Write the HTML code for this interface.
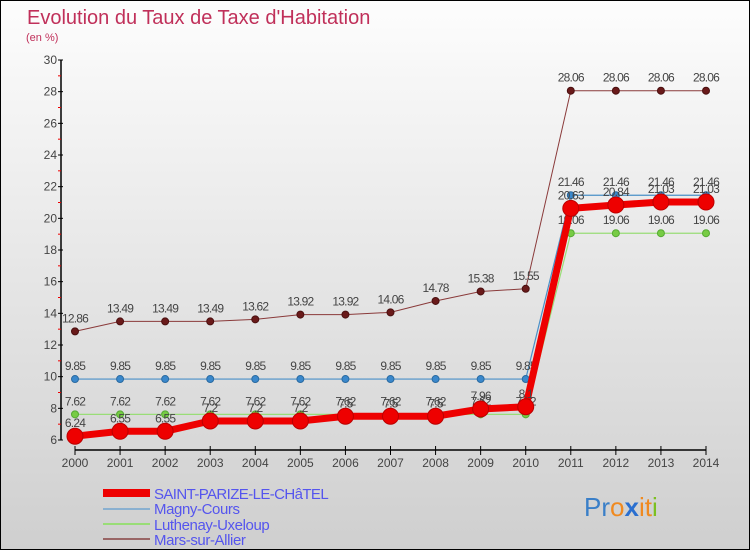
<!DOCTYPE html>
<html><head><meta charset="utf-8"><style>
html,body{margin:0;padding:0}
body{width:750px;height:550px;overflow:hidden;font-family:"Liberation Sans",sans-serif}
</style></head><body>
<svg id="chart" width="750" height="550" xmlns="http://www.w3.org/2000/svg" font-family="Liberation Sans, sans-serif">
<defs><linearGradient id="bg" x1="0" y1="0" x2="0" y2="1"><stop offset="0" stop-color="#fdfdfd"/><stop offset="1" stop-color="#cfcfcf"/></linearGradient></defs>
<rect x="0.5" y="0.5" width="749" height="549" fill="url(#bg)" stroke="#000"/>
<text x="27" y="24" font-size="20" fill="#c0305a">Evolution du Taux de Taxe d'Habitation</text>
<text x="26" y="41" font-size="11" fill="#c0305a">(en %)</text>
<g id="axes"></g>
<g id="series"></g>
<g id="legend">
<line x1="103" y1="493" x2="150" y2="493" stroke="#e00" stroke-width="8"/>
<text x="154" y="499" font-size="15" letter-spacing="-0.6" fill="#5555ee">SAINT-PARIZE-LE-CHâTEL</text>
<line x1="103" y1="509" x2="150" y2="509" stroke="#8ab0d0" stroke-width="2"/>
<text x="154" y="514" font-size="15" letter-spacing="-0.4" fill="#5555ee">Magny-Cours</text>
<line x1="103" y1="524" x2="150" y2="524" stroke="#99dd77" stroke-width="2"/>
<text x="154" y="530" font-size="15" letter-spacing="-0.4" fill="#5555ee">Luthenay-Uxeloup</text>
<line x1="103" y1="539" x2="150" y2="539" stroke="#996666" stroke-width="2"/>
<text x="154" y="545" font-size="15" letter-spacing="-0.4" fill="#5555ee">Mars-sur-Allier</text>
</g>
<g font-size="26">
<text x="584" y="516"><tspan fill="#3a7fc8">Pr</tspan><tspan fill="#f08a20">o</tspan><tspan fill="#2a6fd0" font-weight="bold">x</tspan><tspan fill="#f08a20">it</tspan><tspan fill="#7cc020">i</tspan></text>
</g>
</svg>
<script>
const years=[2000,2001,2002,2003,2004,2005,2006,2007,2008,2009,2010,2011,2012,2013,2014];
const yTicks=[6,8,10,12,14,16,18,20,22,24,26,28,30];
const saintParize=[6.24,6.55,6.55,7.2,7.2,7.2,7.5,7.5,7.5,7.96,8.1,20.63,20.84,21.03,21.03];
const magnyCours=[9.85,9.85,9.85,9.85,9.85,9.85,9.85,9.85,9.85,9.85,9.85,21.46,21.46,21.46,21.46];
const luthenay=[7.62,7.62,7.62,7.62,7.62,7.62,7.62,7.62,7.62,7.62,7.62,19.06,19.06,19.06,19.06];
const marsSurAllier=[12.86,13.49,13.49,13.49,13.62,13.92,13.92,14.06,14.78,15.38,15.55,28.06,28.06,28.06,28.06];
const NS='http://www.w3.org/2000/svg';
const xS=i=>75+i*(706-75)/(years.length-1);
const yS=v=>440-(v-6)*(440-60)/24;
function mk(tag,attrs,parent){const e=document.createElementNS(NS,tag);for(const k in attrs)e.setAttribute(k,attrs[k]);parent.appendChild(e);return e;}
const ax=document.getElementById('axes');
let yl=mk('line',{x1:61,y1:60,x2:61,y2:440,stroke:'#000','stroke-width':1.5},ax);


yTicks.forEach(t=>{
  mk('line',{x1:58,y1:yS(t),x2:63,y2:yS(t),stroke:'#000'},ax);
  mk('line',{x1:58,y1:yS(t+1),x2:61,y2:yS(t+1),stroke:'#e00',opacity:t<30?1:0},ax);
  const tx=mk('text',{x:57,y:yS(t)+4,'font-size':12,'text-anchor':'end',fill:'#444'},ax);
  tx.textContent=t;
  
  
});
let xl=mk('line',{x1:xS(0),y1:450,x2:xS(years.length-1),y2:450,stroke:'#000','stroke-width':1.5},ax);


years.forEach((y,i)=>{
  mk('line',{x1:xS(i),y1:446,x2:xS(i),y2:455,stroke:'#000'},ax);
  const tx=mk('text',{x:xS(i),y:467,'font-size':12,'text-anchor':'middle',fill:'#444'},ax);
  tx.textContent=y;
  
  
});
const sg=document.getElementById('series');
function draw(data,name,color,lw,r,dot,dotStroke){
  const g=mk('g',{},sg);
  
  
  const pl=mk('polyline',{points:data.map((v,i)=>xS(i)+','+yS(v)).join(' '),fill:'none',stroke:color,'stroke-width':lw,'stroke-linejoin':'round'},g);
  
  
  data.forEach((v,i)=>{
    const c=mk('circle',{cx:xS(i),cy:yS(v),r:r,fill:dot,stroke:dotStroke,'stroke-width':1},g);
    
    
    const t=mk('text',{x:xS(i),y:yS(v)-9,'font-size':12,'text-anchor':'middle',fill:'#444','letter-spacing':'-0.8'},g);
    t.textContent=String(v);
    
    
  });
}
draw(marsSurAllier,'mars-sur-allier','#8a3a3a',1,3.5,'#6a1a1a','#4a1010');
draw(magnyCours,'magny-cours','#4a90c8',1.2,3.5,'#3a88cc','#2a6aa0');
draw(luthenay,'luthenay-uxeloup','#99dd77',1.2,3.5,'#77cc44','#55aa33');
draw(saintParize,'saint-parize','#ee0000',7,8,'#ee0000','#bb0000');
</script>
</body></html>
